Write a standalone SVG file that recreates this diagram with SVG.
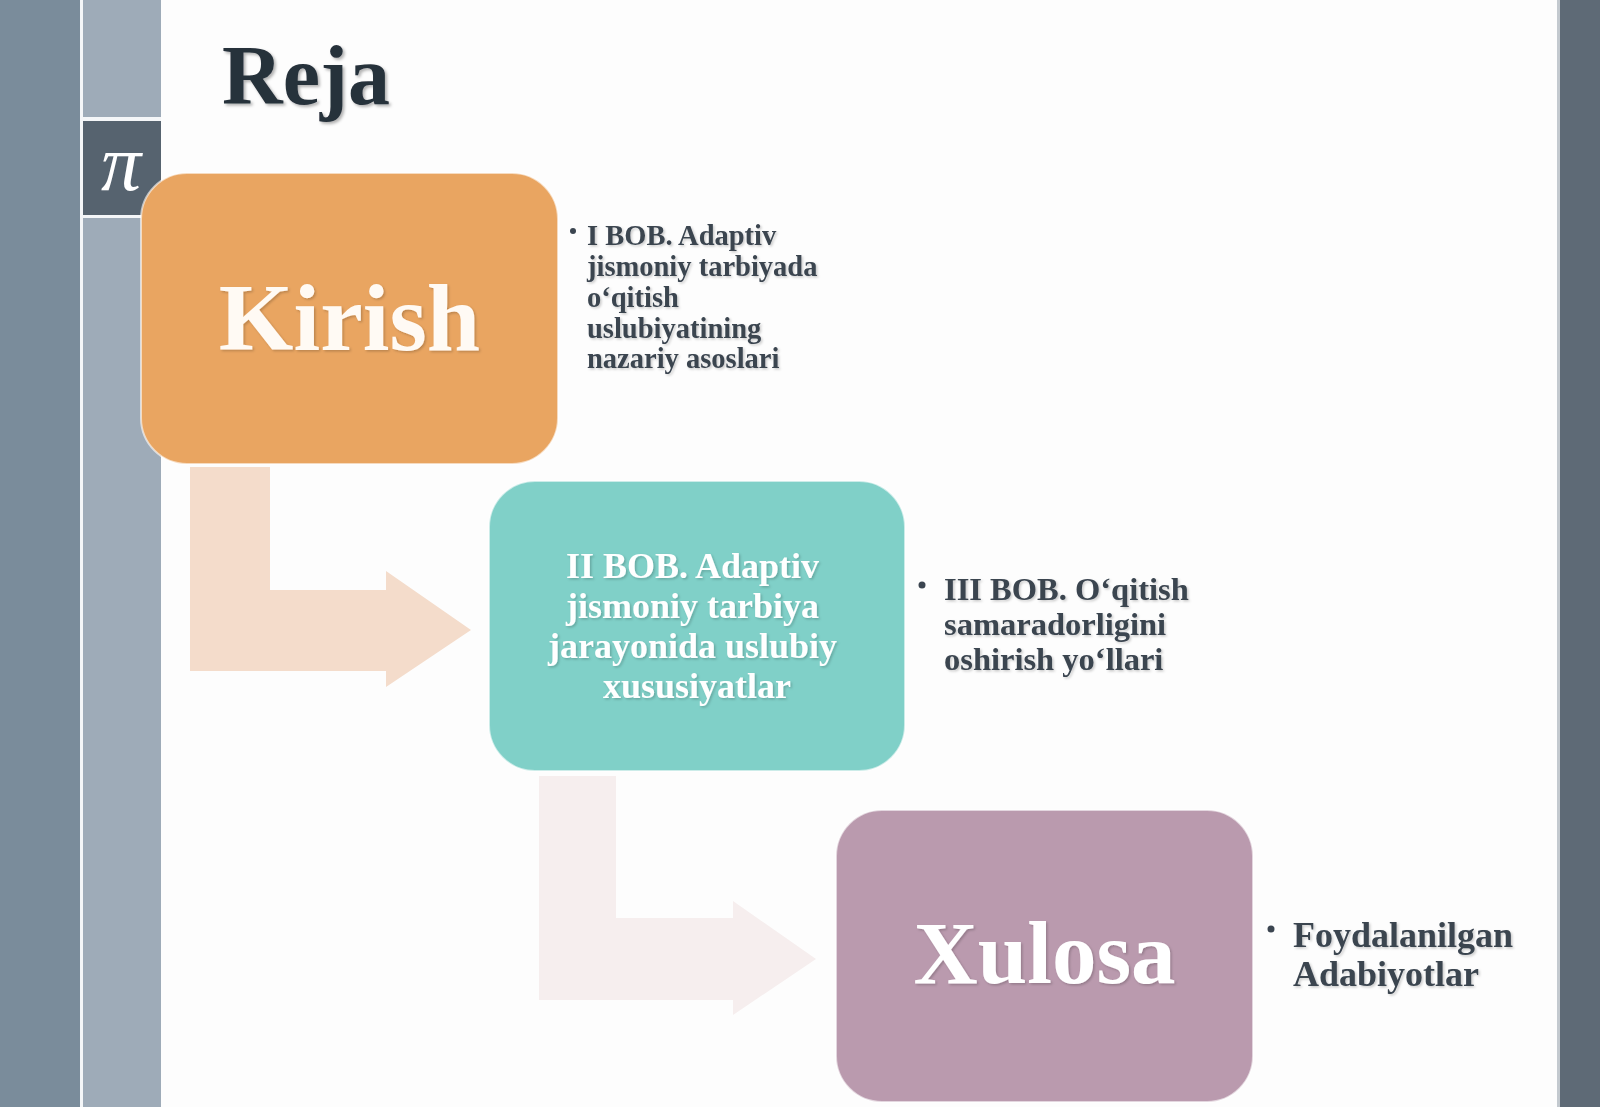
<svg xmlns="http://www.w3.org/2000/svg" width="1600" height="1107" viewBox="0 0 1600 1107">
  <defs>
    <filter id="ts" x="-10%" y="-30%" width="130%" height="170%">
      <feDropShadow dx="2" dy="2" stdDeviation="1.5" flood-color="#000" flood-opacity="0.3"/>
    </filter>
    <filter id="tsl" x="-10%" y="-30%" width="130%" height="170%">
      <feDropShadow dx="1.5" dy="1.5" stdDeviation="1.2" flood-color="#000" flood-opacity="0.2"/>
    </filter>
  </defs>
  <style>
    .serif { font-family: "Liberation Serif", "Times New Roman", serif; font-weight: bold; }
    .side { font-family: "Liberation Serif", "Times New Roman", serif; font-weight: bold; fill: #3b4550; }
    .white { fill: #ffffff; }
    .box { stroke: #ffffff; stroke-opacity: 0.6; stroke-width: 2; }
  </style>

  <!-- background -->
  <rect x="0" y="0" width="1600" height="1107" fill="#fdfdfd"/>

  <!-- left frame -->
  <g id="left-frame">
    <rect x="0" y="0" width="80" height="1107" fill="#7a8c9b"/>
    <rect x="80" y="0" width="3" height="1107" fill="#f4f6f8"/>
    <rect x="83" y="0" width="78" height="1107" fill="#9eabb8"/>
    <rect x="83" y="117" width="78" height="4" fill="#f4f6f8"/>
    <rect x="83" y="121" width="78" height="94" fill="#56636f"/>
    <rect x="83" y="215" width="78" height="3" fill="#f4f6f8"/>
    <text x="121" y="190" font-family="Liberation Serif, serif" font-style="italic" font-size="80" fill="#ffffff" text-anchor="middle" font-weight="normal">π</text>
  </g>

  <!-- right frame -->
  <g id="right-frame">
    <rect x="1557" y="0" width="3" height="1107" fill="#c3c9cf"/>
    <rect x="1560" y="0" width="40" height="1107" fill="#5e6a76"/>
  </g>

  <!-- title -->
  <g id="title">
    <text x="222" y="104" class="serif" font-size="84" fill="#27313b" filter="url(#ts)">Reja</text>
  </g>

  <!-- connectors -->
  <g id="connectors">
    <path d="M190,467 H270 V590 H386 V571 L471,630 L386,687 V671 H190 Z" fill="#f4dccb"/>
    <path d="M539,776 H616 V918 H733 V901 L816,959 L733,1015 V1000 H539 Z" fill="#f6eeee"/>
  </g>

  <!-- node 1 -->
  <g id="node-kirish">
    <rect class="box" x="141" y="173" width="417" height="291" rx="46" ry="46" fill="#e9a561"/>
    <text x="349.5" y="350" class="serif" fill="#fffaf4" font-size="96" text-anchor="middle" filter="url(#tsl)">Kirish</text>
  </g>
  <g id="text-1">
    <circle cx="573" cy="231" r="3" fill="#3b4550"/>
    <text class="side" font-size="28.5" filter="url(#tsl)">
      <tspan x="587" y="245">I BOB. Adaptiv</tspan>
      <tspan x="587" y="276">jismoniy tarbiyada</tspan>
      <tspan x="587" y="307">o‘qitish</tspan>
      <tspan x="587" y="338">uslubiyatining</tspan>
      <tspan x="587" y="368">nazariy asoslari</tspan>
    </text>
  </g>

  <!-- node 2 -->
  <g id="node-bob2">
    <rect class="box" x="489" y="481" width="416" height="290" rx="46" ry="46" fill="#80d0c8"/>
    <text class="serif white" font-size="36" text-anchor="middle" filter="url(#tsl)">
      <tspan x="697" y="578">II BOB. Adaptiv</tspan>
      <tspan x="697" y="618">jismoniy tarbiya</tspan>
      <tspan x="697" y="658">jarayonida uslubiy</tspan>
      <tspan x="697" y="698">xususiyatlar</tspan>
    </text>
  </g>
  <g id="text-2">
    <circle cx="922" cy="585" r="3.5" fill="#3b4550"/>
    <text class="side" font-size="32.5" filter="url(#tsl)">
      <tspan x="944" y="600">III BOB. O‘qitish</tspan>
      <tspan x="944" y="635">samaradorligini</tspan>
      <tspan x="944" y="670">oshirish yo‘llari</tspan>
    </text>
  </g>

  <!-- node 3 -->
  <g id="node-xulosa">
    <rect class="box" x="836" y="810" width="417" height="292" rx="46" ry="46" fill="#ba9aae"/>
    <text x="1044.5" y="983" class="serif white" font-size="89" text-anchor="middle" filter="url(#tsl)">Xulosa</text>
  </g>
  <g id="text-3">
    <circle cx="1271" cy="929" r="3.5" fill="#3b4550"/>
    <text class="side" font-size="36" filter="url(#tsl)">
      <tspan x="1293" y="947">Foydalanilgan</tspan>
      <tspan x="1293" y="986">Adabiyotlar</tspan>
    </text>
  </g>
</svg>
